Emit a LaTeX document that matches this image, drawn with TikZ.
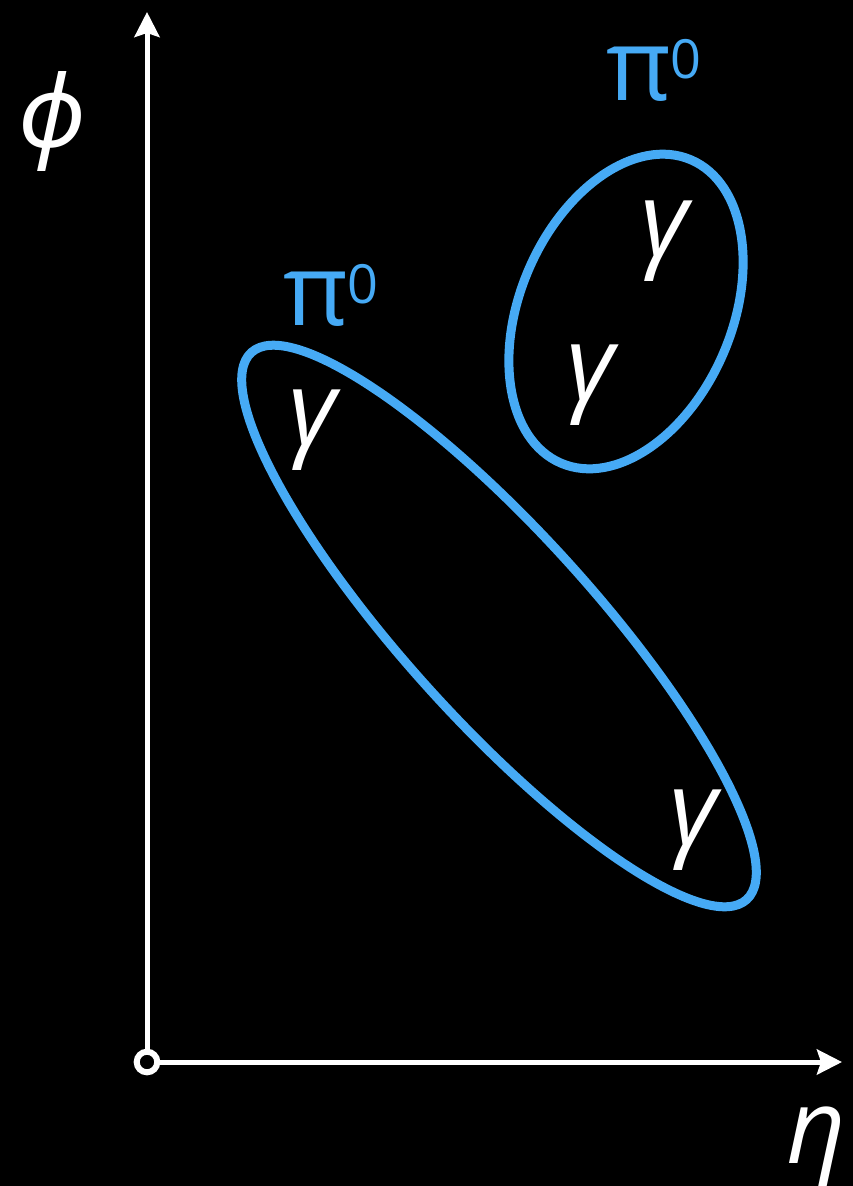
\documentclass[tikz,border=0pt]{standalone}
\usepackage{fontspec}
\setmainfont{Open Sans}
\newfontfamily\phifont{Noto Sans}
\usetikzlibrary{arrows.meta,shapes.geometric}
\definecolor{pblue}{RGB}{70,170,245}
\tikzset{
  axisline/.style={draw=white, line width=5pt, -{Stealth[length=25pt,width=25pt,inset=4pt]}},
  group/.style={draw=pblue, line width=9pt, ellipse, inner sep=0pt, outer sep=0pt},
  gam/.style={text=white, inner sep=0pt, font=\fontsize{104}{104}\selectfont\itshape},
  axlabel/.style={text=white, inner sep=0pt, font=\fontsize{104}{104}\selectfont\itshape},
  pilabel/.style={text=pblue, inner sep=0pt, anchor=base west, font=\fontsize{100}{100}\selectfont},
}
\newcommand{\pizero}{π\kern-1pt\raisebox{22pt}{\fontsize{54}{54}\selectfont 0}}
\begin{document}
\begin{tikzpicture}[x=1pt,y=-1pt]
\fill[black] (0,0) rectangle (853,1186);
\useasboundingbox (0,0) rectangle (853,1186);
% origin
\node[circle, draw=white, line width=6pt, fill=black, minimum size=20.6pt, inner sep=0pt] (o) at (147,1062) {};
\coordinate (ytip) at (147,12);
\coordinate (xtip) at (842,1062);
\draw[axisline] (o.north) -- (ytip);
\draw[axisline] (o.east) -- (xtip);
\node[axlabel, font=\fontsize{100}{100}\selectfont\phifont\itshape] (phi) at (52,121) {ϕ};
\node[axlabel, anchor=north] (eta) at (816,1107) {η};
% groups
\node[group, minimum width=738pt, minimum height=188pt, rotate=-47.85] (big) at (499,626) {};
\node[group, minimum width=330pt, minimum height=212pt, rotate=66.8] (small) at (626,311.5) {};
% photons
\node[gam] (g1) at (312,430) {γ};
\node[gam] (g2) at (693,830) {γ};
\node[gam] (g3) at (664,241) {γ};
\node[gam] (g4) at (590,385) {γ};
% labels
\node[pilabel] (p1) at (283,325) {\pizero};
\node[pilabel] (p2) at (606,100) {\pizero};
\end{tikzpicture}
\end{document}
